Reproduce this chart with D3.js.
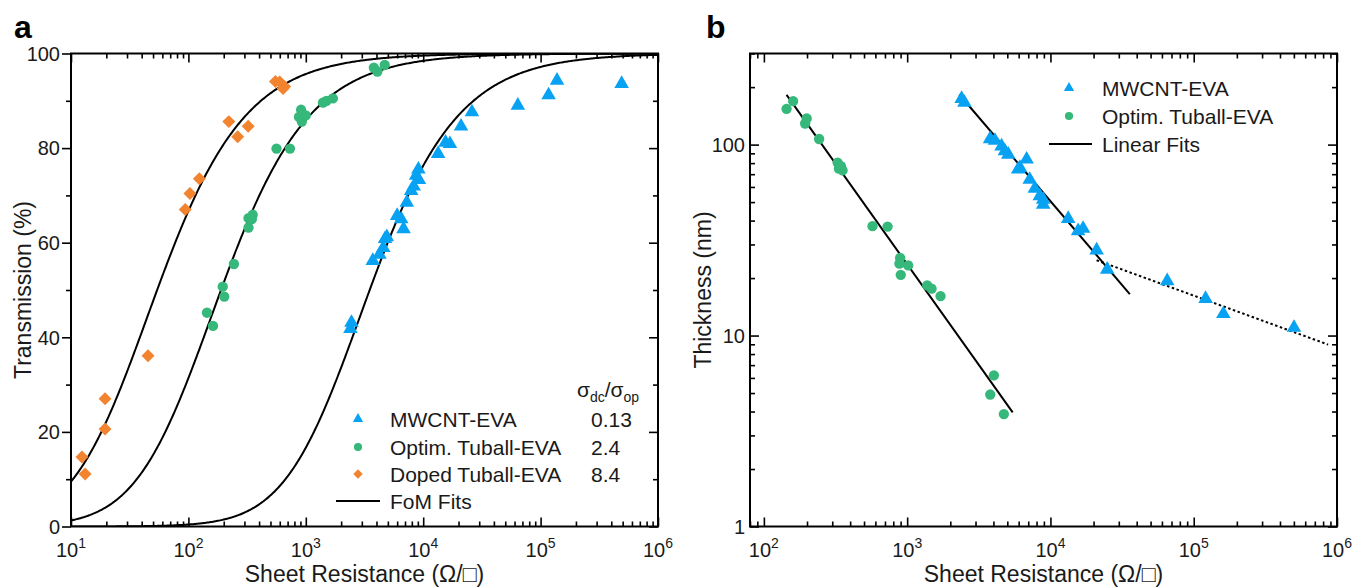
<!DOCTYPE html>
<meta charset="utf-8">
<body style="margin:0;background:#fff;">
<svg id="chart" width="1354" height="587"></svg>
</body>
<script src="https://cdn.jsdelivr.net/npm/d3@7"></script>
<script>
// ---- panel a: transmission vs sheet resistance ----
let mwRs = [2450, 2400, 3720, 4240, 4570, 4730, 4900, 6000, 6500, 6800, 7250, 7900, 8300, 8700, 9100, 9200, 13400, 15500, 16900, 21000, 26000, 64000, 117000, 138000, 490000];
let mwT = [43.1, 41.8, 56.2, 57.5, 58.9, 60.8, 61.2, 65.7, 65.0, 62.9, 68.5, 71.0, 71.9, 74.2, 75.5, 73.3, 78.8, 81.2, 80.9, 84.6, 87.6, 89.0, 91.2, 94.3, 93.6];
let tbRs = [144, 162, 196, 202, 244, 325, 325, 353, 347, 563, 733, 912, 875, 925, 1000, 1400, 1500, 1700, 3800, 4070, 4700];
let tbT = [45.2, 42.4, 50.7, 48.6, 55.5, 63.2, 65.2, 65.9, 65.0, 79.9, 79.9, 88.1, 86.6, 85.6, 86.9, 89.6, 90.0, 90.5, 97.0, 96.2, 97.6];
let dpRs = [12.4, 13.2, 19.5, 19.5, 45.3, 94, 103, 124, 221, 263, 323, 551, 600, 660, 640];
let dpT = [14.7, 11.1, 27.0, 20.6, 36.1, 67.0, 70.4, 73.5, 85.6, 82.4, 84.6, 94.1, 94.0, 93.0, 92.6];
let fomNames = ["MWCNT-EVA", "Optim. Tuball-EVA", "Doped Tuball-EVA"];
let fomRatio = [0.13, 2.4, 8.4];
let fomLabels = ["0.13", "2.4", "8.4"];
let yTicksA = [0, 20, 40, 60, 80, 100];

// ---- panel b: thickness vs sheet resistance ----
let tbRsB = [144, 160, 199, 194, 243, 327, 334, 354, 345, 573, 730, 893, 883, 1016, 902, 1380, 1480, 1710, 4030, 3800, 4730];
let tbThk = [154, 169, 137, 129, 107, 80.5, 74.8, 73.3, 77, 37.4, 37.2, 25.5, 23.8, 23.3, 20.8, 18.3, 17.6, 16.1, 6.19, 4.91, 3.88];
let mwRsB = [2400, 2510, 3790, 4100, 4560, 4810, 5080, 6130, 6820, 5950, 7170, 7780, 8430, 8900, 8900, 13300, 15600, 16900, 21000, 24900, 65300, 121000, 161000, 501000];
let mwThk = [174, 166, 107, 105, 98, 92.5, 88.8, 75.7, 83.7, 74.2, 65.6, 58.8, 53.8, 51.6, 48.6, 40.9, 35.3, 36.3, 28.0, 22.2, 19.3, 15.6, 13.0, 11.0];
let fitTbRs = [144, 5450], fitTbThk = [182, 3.96];
let fitMwRs = [2310, 35800], fitMwThk = [183, 16.5];
let fitMwTailRs = [21000, 867000], fitMwTailThk = [24.8, 8.97];
let yTicksB = [1, 10, 100];

let blue = "#08a2f3", green = "#35b87a", orange = "#f2832f";
let font = "'Liberation Sans', Arial, sans-serif";

let svg = d3.select("#chart").style("font-family", font);

let A = { l: 71, r: 658, t: 53.5, b: 526.5 };
let B = { l: 750, r: 1337, t: 53.5, b: 526.5 };

let xA = d3.scaleLog().domain([10, 1e6]).range([A.l, A.r]);
let yA = d3.scaleLinear().domain([0, 100]).range([A.b, A.t]);
let xB = d3.scaleLog().domain([80, 1e6]).range([B.l, B.r]);
let yB = d3.scaleLog().domain([1, 300]).range([B.b, B.t]);

let minorLog = (lo, hi) => {
    let out = [];
    for (let e = Math.floor(Math.log10(lo)); e <= Math.ceil(Math.log10(hi)); e++)
        for (let m = 2; m <= 9; m++) {
            let v = m * Math.pow(10, e);
            if (v >= lo && v <= hi) out.push(v);
        }
    return out;
};
let majorLog = (lo, hi) => d3.range(Math.ceil(Math.log10(lo)), Math.floor(Math.log10(hi)) + 1).map(e => Math.pow(10, e));

let tickAxis = (g, axis) => {
    g.call(axis);
    g.select(".domain").remove();
    g.selectAll("line").attr("stroke", "#000").attr("stroke-width", 1.6);
};

let drawFrame = (P, x, y, opts) => {
    let xMaj = majorLog(x.domain()[0], x.domain()[1]);
    let xMin = minorLog(x.domain()[0], x.domain()[1]);
    // bottom + top, ticks inward
    tickAxis(svg.append("g").attr("transform", `translate(0,${P.b})`), d3.axisBottom(x).tickValues(xMaj).tickSize(-9).tickFormat(""));
    tickAxis(svg.append("g").attr("transform", `translate(0,${P.b})`), d3.axisBottom(x).tickValues(xMin).tickSize(-5).tickFormat(""));
    tickAxis(svg.append("g").attr("transform", `translate(0,${P.t})`), d3.axisTop(x).tickValues(xMaj).tickSize(-9).tickFormat(""));
    tickAxis(svg.append("g").attr("transform", `translate(0,${P.t})`), d3.axisTop(x).tickValues(xMin).tickSize(-5).tickFormat(""));
    // left + right
    let ls = opts.leftOut ? 1 : -1;
    tickAxis(svg.append("g").attr("transform", `translate(${P.l},0)`), d3.axisLeft(y).tickValues(opts.yMaj).tickSize(9 * ls).tickFormat(""));
    tickAxis(svg.append("g").attr("transform", `translate(${P.l},0)`), d3.axisLeft(y).tickValues(opts.yMin).tickSize(5 * ls).tickFormat(""));
    tickAxis(svg.append("g").attr("transform", `translate(${P.r},0)`), d3.axisRight(y).tickValues(opts.yMaj).tickSize(-9).tickFormat(""));
    tickAxis(svg.append("g").attr("transform", `translate(${P.r},0)`), d3.axisRight(y).tickValues(opts.yMin).tickSize(-5).tickFormat(""));

    svg.append("rect").attr("x", P.l).attr("y", P.t).attr("width", P.r - P.l).attr("height", P.b - P.t)
        .attr("fill", "none").attr("stroke", "#000").attr("stroke-width", 2);

    // x tick labels as 10^n
    xMaj.forEach(v => {
        let t = svg.append("text").attr("x", x(v)).attr("y", 557).attr("text-anchor", "middle")
            .attr("font-size", 20).attr("fill", "#1a1a1a");
        t.append("tspan").text("10");
        t.append("tspan").attr("dy", -9).attr("font-size", 14).text(Math.round(Math.log10(v)));
    });
    // y tick labels
    let lx = opts.leftOut ? P.l - 11 : P.l - 5;
    opts.yMaj.forEach(v => {
        svg.append("text").attr("x", lx).attr("y", y(v)).attr("dy", "0.36em").attr("text-anchor", "end")
            .attr("font-size", 20).attr("fill", "#1a1a1a").text(v);
    });
    // titles
    svg.append("text").attr("x", (P.l + P.r) / 2).attr("y", 582).attr("text-anchor", "middle")
        .attr("font-size", 23).attr("fill", "#1a1a1a").text("Sheet Resistance (Ω/□)");
    svg.append("text").attr("transform", `translate(${opts.titleX},${(P.t + P.b) / 2}) rotate(-90)`)
        .attr("text-anchor", "middle").attr("font-size", 23).attr("fill", "#1a1a1a").text(opts.yTitle);
    svg.append("text").attr("x", opts.letterX).attr("y", 38).attr("font-size", 32).attr("font-weight", "bold")
        .text(opts.letter);
};

let clip = (id, P) => svg.append("clipPath").attr("id", id).append("rect")
    .attr("x", P.l).attr("y", P.t).attr("width", P.r - P.l).attr("height", P.b - P.t);
clip("clipA", A);
clip("clipB", B);

let tri = (s) => d3.symbol(d3.symbolTriangle, s)();
let circ = (s) => d3.symbol(d3.symbolCircle, s)();
let dia = (s) => d3.symbol(d3.symbolSquare, s)();

let scatter = (xs, ys, x, y, path, color, rot) => {
    svg.append("g").selectAll("path").data(xs).join("path")
        .attr("d", path)
        .attr("transform", (d, i) => `translate(${x(d)},${y(ys[i])})` + (rot ? " rotate(45)" : ""))
        .attr("fill", color);
};

// ---- panel a ----
drawFrame(A, xA, yA, {
    leftOut: true, yMaj: yTicksA, yMin: [10, 30, 50, 70, 90],
    titleX: 31, yTitle: "Transmission (%)", letter: "a", letterX: 14
});

// FoM fit curves T = (1 + Z0/(2 Rs ratio))^-2
let rsGrid = d3.range(1, 6.001, 0.01).map(e => Math.pow(10, e));
let fomLine = d3.line().x(d => xA(d[0])).y(d => yA(d[1]));
fomRatio.forEach(k => {
    let pts = rsGrid.map(r => [r, 100 * Math.pow(1 + 188.5 / (r * k), -2)]);
    svg.append("path").attr("d", fomLine(pts)).attr("fill", "none").attr("stroke", "#000")
        .attr("stroke-width", 2).attr("clip-path", "url(#clipA)");
});

scatter(dpRs, dpT, xA, yA, dia(84), orange, true);
scatter(tbRs, tbT, xA, yA, circ(84), green);
scatter(mwRs, mwT, xA, yA, tri(92), blue);

// legend a
let legA = [{ p: tri(46), c: blue }, { p: circ(52), c: green }, { p: dia(44), c: orange, r: true }];
let legAy = [419, 447, 474];
svg.append("text").attr("x", 577).attr("y", 397).attr("font-size", 21).attr("fill", "#1a1a1a")
    .call(t => {
        t.append("tspan").text("σ");
        t.append("tspan").attr("dy", 5).attr("font-size", 14).text("dc");
        t.append("tspan").attr("dy", -5).text("/σ");
        t.append("tspan").attr("dy", 5).attr("font-size", 14).text("op");
    });
legA.forEach((m, i) => {
    svg.append("path").attr("d", m.p).attr("fill", m.c)
        .attr("transform", `translate(358,${legAy[i]})` + (m.r ? " rotate(45)" : ""));
    svg.append("text").attr("x", 390).attr("y", legAy[i]).attr("dy", "0.36em").attr("font-size", 21)
        .attr("fill", "#1a1a1a").text(fomNames[i]);
    svg.append("text").attr("x", 591).attr("y", legAy[i]).attr("dy", "0.36em").attr("font-size", 21)
        .attr("fill", "#1a1a1a").text(fomLabels[i]);
});
svg.append("line").attr("x1", 336).attr("x2", 380).attr("y1", 501).attr("y2", 501)
    .attr("stroke", "#000").attr("stroke-width", 2);
svg.append("text").attr("x", 390).attr("y", 501).attr("dy", "0.36em").attr("font-size", 21)
    .attr("fill", "#1a1a1a").text("FoM Fits");

// ---- panel b ----
drawFrame(B, xB, yB, {
    leftOut: false, yMaj: yTicksB, yMin: minorLog(1, 300),
    titleX: 711, yTitle: "Thickness (nm)", letter: "b", letterX: 706
});

let segLine = d3.line().x(d => xB(d[0])).y(d => yB(d[1]));
let seg = (rs, th, dash) => svg.append("path")
    .attr("d", segLine(rs.map((r, i) => [r, th[i]])))
    .attr("fill", "none").attr("stroke", "#000").attr("stroke-width", 2)
    .attr("stroke-dasharray", dash || null).attr("clip-path", "url(#clipB)");
seg(fitTbRs, fitTbThk);
seg(fitMwRs, fitMwThk);
seg(fitMwTailRs, fitMwTailThk, "2.5,2.5");

scatter(tbRsB, tbThk, xB, yB, circ(84), green);
scatter(mwRsB, mwThk, xB, yB, tri(92), blue);

// legend b
svg.append("path").attr("d", tri(46)).attr("fill", blue).attr("transform", "translate(1069,88)");
svg.append("path").attr("d", circ(52)).attr("fill", green).attr("transform", "translate(1069,116)");
svg.append("line").attr("x1", 1049).attr("x2", 1092).attr("y1", 144).attr("y2", 144)
    .attr("stroke", "#000").attr("stroke-width", 2);
[["MWCNT-EVA", 88], ["Optim. Tuball-EVA", 116], ["Linear Fits", 144]].forEach(d => {
    svg.append("text").attr("x", 1102).attr("y", d[1]).attr("dy", "0.36em").attr("font-size", 21)
        .attr("fill", "#1a1a1a").text(d[0]);
});
</script>
